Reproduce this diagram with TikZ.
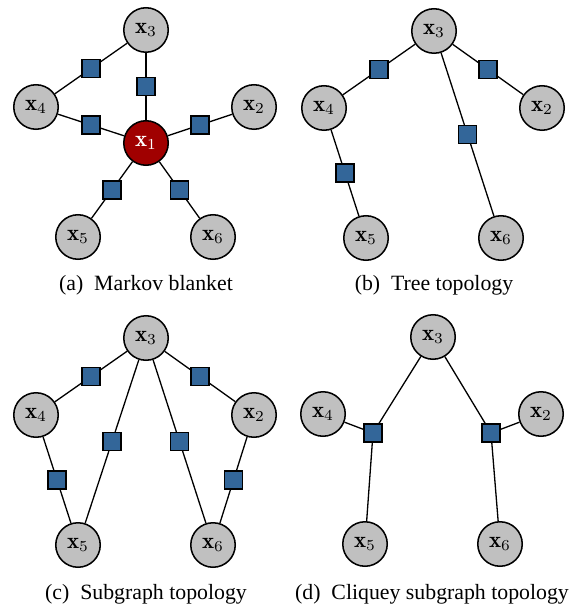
\documentclass[tikz,border=0pt]{standalone}
\usepackage{amsmath,bm}
\usepackage{fontspec}
\newfontfamily\capfont{Liberation Serif}
\usepackage{tikz}
\usetikzlibrary{calc}
\definecolor{VarGray}{HTML}{C0C0C0}
\definecolor{ObsRed}{HTML}{A00000}
\definecolor{FacBlue}{HTML}{336699}

\begin{document}
\begin{tikzpicture}[x=0.4587pt,y=-0.4587pt,
  var/.style={circle,draw,line width=0.7pt,fill=VarGray,minimum size=20.4pt,inner sep=0pt,font=\fontsize{10.5}{12}\selectfont},
  obs/.style={var,fill=ObsRed,text=white},
  fac/.style={rectangle,draw,line width=0.7pt,fill=FacBlue,minimum size=8.1pt,inner sep=0pt},
  edge/.style={line width=0.6pt},
  subcap/.style={font=\capfont}]
  \useasboundingbox (0,0) rectangle (574,612);

  % (a) Markov blanket
  \begin{scope}[shift={(146,30)}]
    \foreach \i/\x/\y in {3/0/0,4/-110/77,2/108/77,5/-68/207,6/67/207}
      \node[var] (a\i) at (\x,\y) {$\mathbf{x}_\i$};
    \node[obs] (a1) at (0,113) {$\mathbf{x}_1$};
  \end{scope}
  \foreach \u/\v in {3/4,3/1,4/1,1/2,1/5,1/6} {
    \node[fac] (af\u\v) at ($(a\u)!.5!(a\v)$) {};
    \draw[edge] (a\u) -- (af\u\v) -- (a\v);
  }
  \node[subcap] (capa) at (146,285) {(a)\enspace Markov blanket};

  % (b) Tree topology
  \begin{scope}[shift={(434,31)}]
    \foreach \i/\x/\y in {3/0/0,4/-110/77,2/108/77,5/-68/207,6/67/207}
      \node[var] (b\i) at (\x,\y) {$\mathbf{x}_\i$};
  \end{scope}
  \foreach \u/\v in {3/4,3/2,3/6,4/5} {
    \node[fac] (bf\u\v) at ($(b\u)!.5!(b\v)$) {};
    \draw[edge] (b\u) -- (bf\u\v) -- (b\v);
  }
  \node[subcap] (capb) at (434,285) {(b)\enspace Tree topology};

  % (c) Subgraph topology
  \begin{scope}[shift={(146,338)}]
    \foreach \i/\x/\y in {3/0/0,4/-110/77,2/108/77,5/-68/207,6/67/207}
      \node[var] (c\i) at (\x,\y) {$\mathbf{x}_\i$};
  \end{scope}
  \foreach \u/\v in {3/4,3/2,3/5,3/6,4/5,2/6} {
    \node[fac] (cf\u\v) at ($(c\u)!.5!(c\v)$) {};
    \draw[edge] (c\u) -- (cf\u\v) -- (c\v);
  }
  \node[subcap] (capc) at (146,594) {(c)\enspace Subgraph topology};

  % (d) Cliquey subgraph topology
  \begin{scope}[shift={(433,337)}]
    \foreach \i/\x/\y in {3/0/0,4/-110/77,2/108/77,5/-68/207,6/67/207}
      \node[var] (d\i) at (\x,\y) {$\mathbf{x}_\i$};
    \node[fac] (dfl) at (-60,96) {};
    \node[fac] (dfr) at (58,96) {};
  \end{scope}
  \foreach \v in {3,4,5} \draw[edge] (dfl) -- (d\v);
  \foreach \v in {3,2,6} \draw[edge] (dfr) -- (d\v);
  \node[subcap] (capd) at (432,594) {(d)\enspace Cliquey subgraph topology};
\end{tikzpicture}
\end{document}
